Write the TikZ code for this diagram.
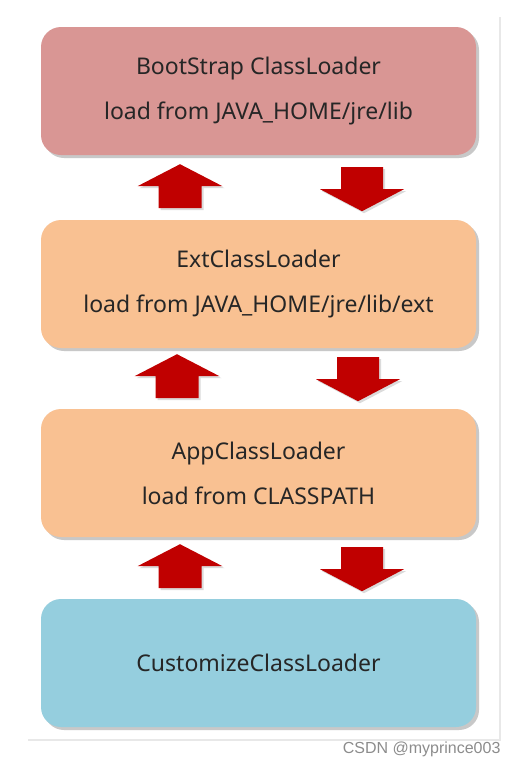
\documentclass[tikz,border=0pt]{standalone}
\usepackage{fontspec}
\setmainfont{Noto Sans}
\newfontfamily\markfont{Liberation Sans}
\usetikzlibrary{calc,shadows}

\definecolor{bootred}{HTML}{D99694}
\definecolor{extorange}{HTML}{F9C192}
\definecolor{custblue}{HTML}{95CEDE}
\definecolor{arrred}{HTML}{C00000}
\definecolor{txtgray}{HTML}{262626}

\tikzset{
  loader/.style={rectangle, rounded corners=20pt, minimum width=435pt, minimum height=128pt,
    inner sep=0pt, align=center, text=txtgray, font=\fontsize{23}{45}\selectfont,
    drop shadow={shadow xshift=3pt, shadow yshift=-3pt, opacity=0.3, fill=black!70}},
  blockarrow/.style={fill=arrred, drop shadow={shadow xshift=2pt, shadow yshift=-2pt, opacity=0.2, fill=black!70}},
  pics/uparrow/.style={code={
    \path[blockarrow] (0,0) -- (42.5,22) -- (21.5,22) -- (21.5,44) -- (-21.5,44) -- (-21.5,22) -- (-42.5,22) -- cycle;}},
  pics/downarrow/.style={code={
    \path[blockarrow] (-21,0) -- (21,0) -- (21,22) -- (42,22) -- (0,44) -- (-42,22) -- (-21,22) -- cycle;}}
}

\begin{document}
\begin{tikzpicture}[x=1pt, y=-1pt]
  \useasboundingbox (0,0) rectangle (519,766);
  % white panel
  \path[fill=white, drop shadow={shadow xshift=2pt, shadow yshift=-2pt, opacity=0.15, fill=black!60}]
    (26,15) rectangle (499,739);

  \begin{scope}[every node/.style={loader}]
    \node[fill=bootred] (boot) at (258.5,91) {BootStrap ClassLoader\\load from JAVA\_HOME/jre/lib};
    \node[fill=extorange] (ext) at (258.5,284) {ExtClassLoader\\load from JAVA\_HOME/jre/lib/ext};
    \node[fill=extorange] (app) at (258.5,473) {AppClassLoader\\load from CLASSPATH};
    \node[fill=custblue] (cust) at (258.5,663) {CustomizeClassLoader};
  \end{scope}

  % delegation arrows
  \pic at ($(boot.south)+(-78.5,9)$) {uparrow};
  \pic at ($(boot.south)+(103.5,12)$) {downarrow};
  \pic at ($(ext.south)+(-81.5,6)$) {uparrow};
  \pic at ($(ext.south)+(99.5,9)$) {downarrow};
  \pic at ($(app.south)+(-78.5,7)$) {uparrow};
  \pic at ($(app.south)+(103.5,10)$) {downarrow};

  \node[font=\markfont\fontsize{16}{16}\selectfont, text=black!45, anchor=east] (mark) at (504,749) {CSDN @myprince003};
\end{tikzpicture}
\end{document}
